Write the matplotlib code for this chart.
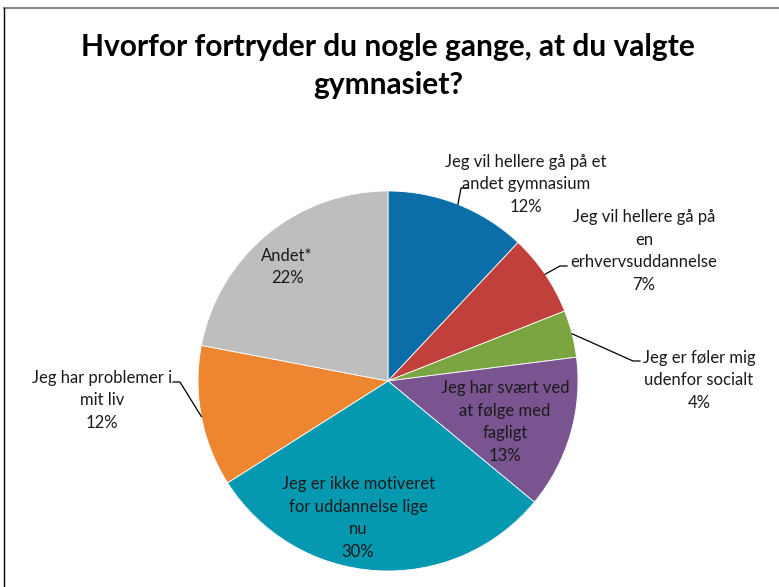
import numpy as np
from matplotlib import pyplot as plt
from matplotlib.lines import Line2D

labels = ['Jeg vil hellere gå på et\nandet gymnasium',
          'Jeg vil hellere gå på\nen\nerhvervsuddannelse',
          'Jeg er føler mig\nudenfor socialt',
          'Jeg har svært ved\nat følge med\nfagligt',
          'Jeg er ikke motiveret\nfor uddannelse lige\nnu',
          'Jeg har problemer i\nmit liv',
          'Andet*']
values = [12, 7, 4, 13, 30, 12, 22]
colors = ['#0B6EA8', '#C1403B', '#7BA540', '#7A5491', '#0499B1', '#EE8631', '#BEBEBE']

W, H = 779, 587
cx, cy, R = 388, 381, 190

plt.rcParams['font.family'] = ['Lato', 'DejaVu Sans']
fig = plt.figure(figsize=(W / 100, H / 100), dpi=100)
ax = fig.add_axes([0, 0, 1, 1])
ax.axis('off')

wedges, _ = ax.pie(values, colors=colors, startangle=90, counterclock=False,
                   radius=1, center=(0, 0),
                   wedgeprops=dict(edgecolor='white', linewidth=0.6))
ax.set_xlim(-cx / R, (W - cx) / R)
ax.set_ylim((cy - H) / R, cy / R)
ax.set_aspect('auto')


def px(x, y):
    return (x - cx) / R, (cy - y) / R


# label centres (pixels) and leader elbows (pixels, or None)
label_pos = [(526, 184), (644, 251), (699, 380), (505, 422),
             (358, 518), (102, 400), (287, 267)]
elbows = [((461, 188), (468, 188)), ((560, 266), (567, 266)),
          ((633, 361), (640, 361)), None, None,
          ((180, 382), (173, 382)), None]

cum = np.cumsum([0] + values[:-1])
for i, (lab, v) in enumerate(zip(labels, values)):
    tx, ty = px(*label_pos[i])
    ax.text(tx, ty, f'{lab}\n{v}%', ha='center', va='center', fontsize=12,
            color='#1a1a1a', linespacing=1.5)
    if elbows[i] is not None:
        mid = np.deg2rad(90 - (cum[i] + v / 2) / 100 * 360)
        x0, y0 = np.cos(mid), np.sin(mid)
        (ex, ey), (hx, hy) = px(*elbows[i][0]), px(*elbows[i][1])
        ax.plot([x0, ex, hx], [y0, ey, hy], color='black', lw=0.9)

fig.text(cx / W, 1 - 66 / H, 'Hvorfor fortryder du nogle gange, at du valgte\ngymnasiet?',
         ha='center', va='center', fontsize=21.5, fontweight='bold', linespacing=1.42)

# chart border (top and left edges visible)
fig.add_artist(Line2D([4 / W, 1], [1 - 8 / H, 1 - 8 / H], color='#8c8c8c', lw=1.5))
fig.add_artist(Line2D([4 / W, 4 / W], [0, 1 - 8 / H], color='black', lw=1.0))

fig.savefig('out.png', dpi=100)
